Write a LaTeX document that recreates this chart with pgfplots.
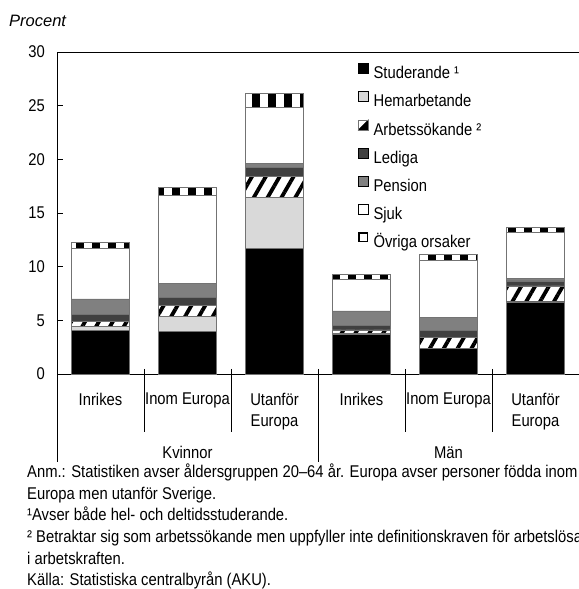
\documentclass[border=0pt]{standalone}
\usepackage{fontspec}
\setmainfont[FakeStretch=0.87]{Liberation Sans}
\newfontfamily\plainsans{Liberation Sans}
\usepackage{pgfplots}
\usepackage{pgfplotstable}
\pgfplotsset{compat=1.18}
\usetikzlibrary{patterns.meta}

\definecolor{hemc}{HTML}{D9D9D9}
\definecolor{ledc}{HTML}{404040}
\definecolor{penc}{HTML}{808080}

\pgfplotstableread{
x stud hem arb led pen sjuk ovr
0 4.03 0.40 0.50 0.62 1.45 4.72 0.57
1 3.96 1.40 1.06 0.74 1.30 8.19 0.71
2 11.69 4.74 1.95 0.90 0.32 5.27 1.27
3 3.72 0.05 0.35 0.40 1.37 2.94 0.47
4 2.42 0.00 0.99 0.68 1.18 5.30 0.55
5 6.72 0.08 1.41 0.47 0.25 4.24 0.47
}\data

\newcommand{\tf}{\fontsize{17bp}{21.7bp}\selectfont}

\begin{document}
\begin{tikzpicture}
\begin{axis}[
  at={(57bp,215bp)}, anchor=south west,
  scale only axis, width=522bp, height=322bp,
  ybar stacked, bar width=0.67,
  xmin=-0.5, xmax=5.5, ymin=0, ymax=30,
  ytick={0,5,...,30},
  xtick={0,...,5},
  xticklabels={Inrikes, Inom Europa, {Utanför\\Europa}, Inrikes, Inom Europa, {Utanför\\Europa}},
  xticklabel style={align=center, font=\tf, anchor=north, inner sep=0pt, yshift=-18.7bp},
  major x tick style={draw=none},
  ytick pos=left,
  ytick align=inside, major tick length=6bp,
  ytick style={black, line width=0.8pt},
  yticklabel style={font=\tf, inner sep=0pt, anchor=east, xshift=-12bp},
  axis line style={line width=0.8pt},
  /pgf/number format/assume math mode=true,
  clip=false,
  every axis plot/.append style={draw=black!55, line width=0.5pt, forget plot},
  legend style={draw=none, fill=none, at={(0.5766,0.965)}, anchor=north west,
    inner sep=0pt, outer sep=0pt, font=\tf, row sep=8.7bp, column sep=5bp,
    nodes={inner sep=0pt, text height=13bp, text depth=4bp}},
  legend cell align=left,
]
\addplot[fill=black] table[x=x,y=stud]{\data};
\addplot[fill=hemc] table[x=x,y=hem]{\data};
\addplot[fill=white, postaction={pattern={Lines[angle=60, distance=12bp, line width=3.8bp]}, pattern color=black}] table[x=x,y=arb]{\data};
\addplot[fill=ledc] table[x=x,y=led]{\data};
\addplot[fill=penc] table[x=x,y=pen]{\data};
\addplot[fill=white] table[x=x,y=sjuk]{\data};
\addplot[fill=white, postaction={pattern={Lines[angle=90, distance=16bp, line width=8bp]}, pattern color=black}] table[x=x,y=ovr]{\data};

\addlegendimage{legend image code/.code={\draw[fill=black, draw=black, line width=0.6pt] (0bp,0.7bp) rectangle (10bp,10.7bp);}}
\addlegendentry{Studerande ¹}
\addlegendimage{legend image code/.code={\draw[fill=hemc, draw=black, line width=0.6pt] (0bp,0.7bp) rectangle (10bp,10.7bp);}}
\addlegendentry{Hemarbetande}
\addlegendimage{legend image code/.code={\draw[fill=white, draw=black, line width=0.6pt] (0bp,0.7bp) rectangle (10bp,10.7bp); \fill[black] (0bp,0.7bp) -- (10bp,0.7bp) -- (10bp,10.7bp) -- cycle; \draw[line width=0.6pt] (0bp,0.7bp) rectangle (10bp,10.7bp);}}
\addlegendentry{Arbetssökande ²}
\addlegendimage{legend image code/.code={\draw[fill=ledc, draw=black, line width=0.6pt] (0bp,0.7bp) rectangle (10bp,10.7bp);}}
\addlegendentry{Lediga}
\addlegendimage{legend image code/.code={\draw[fill=penc, draw=black, line width=0.6pt] (0bp,0.7bp) rectangle (10bp,10.7bp);}}
\addlegendentry{Pension}
\addlegendimage{legend image code/.code={\draw[fill=white, draw=black, line width=0.6pt] (0bp,0.7bp) rectangle (10bp,10.7bp);}}
\addlegendentry{Sjuk}
\addlegendimage{legend image code/.code={\draw[fill=white, draw=black, line width=1.6pt] (0.8bp,1.5bp) rectangle (9.2bp,9.9bp);}}
\addlegendentry{Övriga orsaker}

% separators
\draw[black, line width=0.8pt] (axis cs:-0.5,0) -- ++(0pt,-88bp);
\draw[black, line width=0.8pt] (axis cs:2.5,0) ++(0pt,5bp) -- ++(0pt,-93bp);
\draw[black, line width=0.8pt] (axis cs:5.5,0) ++(0pt,5bp) -- ++(0pt,-93bp);
\draw[black, line width=0.8pt] (axis cs:0.5,0) ++(0pt,5bp) -- ++(0pt,-63bp);
\draw[black, line width=0.8pt] (axis cs:1.5,0) ++(0pt,5bp) -- ++(0pt,-63bp);
\draw[black, line width=0.8pt] (axis cs:3.5,0) ++(0pt,5bp) -- ++(0pt,-63bp);
\draw[black, line width=0.8pt] (axis cs:4.5,0) ++(0pt,5bp) -- ++(0pt,-63bp);
\node[font=\tf, anchor=base, inner sep=0pt] at ([yshift=-85bp]axis cs:1,0) {Kvinnor};
\node[font=\tf, anchor=base, inner sep=0pt] at ([yshift=-85bp]axis cs:4,0) {Män};
\end{axis}

\node[anchor=base west, font={\plainsans\itshape\fontsize{16.5bp}{20bp}\selectfont}, inner sep=0pt] at (9bp,562.3bp) {Procent};

\begin{scope}[every node/.style={anchor=base west, font=\tf, inner sep=0pt}]
\node at (27bp,111bp) {Anm.: Statistiken avser åldersgruppen 20–64 år. Europa avser personer födda inom};
\node at (27bp,89.5bp) {Europa men utanför Sverige.};
\node at (27bp,68bp) {¹Avser både hel- och deltidsstuderande.};
\node at (27bp,46.5bp) {² Betraktar sig som arbetssökande men uppfyller inte definitionskraven för arbetslösa};
\node at (27bp,25bp) {i arbetskraften.};
\node at (27bp,3.5bp) {Källa: Statistiska centralbyrån (AKU).};
\end{scope}

\pgfresetboundingbox
\useasboundingbox (0,0) rectangle (579bp,589bp);
\end{tikzpicture}
\end{document}
